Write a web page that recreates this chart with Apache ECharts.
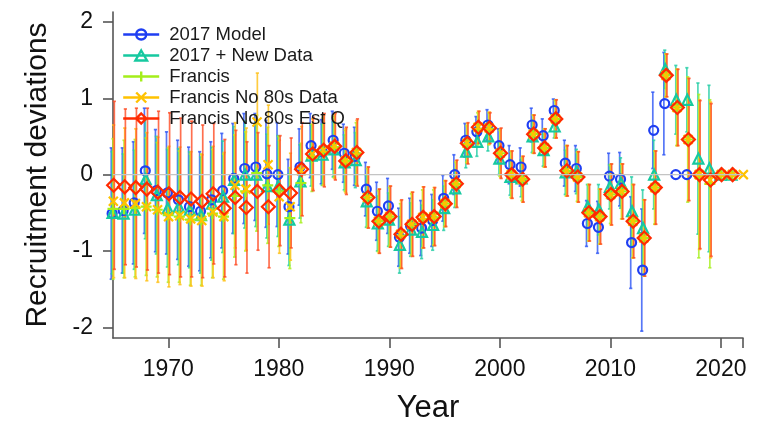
<!DOCTYPE html>
<html>
<head>
<meta charset="utf-8">
<script src="https://cdn.jsdelivr.net/npm/echarts@6/dist/echarts.min.js"></script>
<style>
  html, body { margin: 0; padding: 0; background: #fff; }
  #chart { width: 759px; height: 433px; }
</style>
</head>
<body>
<div id="chart"></div>
<script>
// Recruitment deviations (log-scale) by year, with ~95% intervals (half-widths)
const years = [
  1965, 1966, 1967, 1968, 1969, 1970, 1971, 1972, 1973, 1974,
  1975, 1976, 1977, 1978, 1979, 1980, 1981, 1982, 1983, 1984,
  1985, 1986, 1987, 1988, 1989, 1990, 1991, 1992, 1993, 1994,
  1995, 1996, 1997, 1998, 1999, 2000, 2001, 2002, 2003, 2004,
  2005, 2006, 2007, 2008, 2009, 2010, 2011, 2012, 2013, 2014,
  2015, 2016, 2017, 2018, 2019, 2020, 2021, 2022
];

const model2017 = [
  -0.51, -0.47, -0.37, 0.05, -0.21, -0.24, -0.33, -0.42, -0.48, -0.33,
  -0.21, -0.05, 0.08, 0.10, 0.01, 0.00, -0.42, 0.10, 0.38, 0.30,
  0.45, 0.28, 0.24, -0.19, -0.48, -0.41, -0.82, -0.67, -0.70, -0.60,
  -0.31, 0.00, 0.45, 0.56, 0.65, 0.38, 0.13, 0.10, 0.65, 0.51,
  0.84, 0.15, 0.08, -0.64, -0.69, -0.02, -0.06, -0.89, -1.25, 0.58,
  0.93, 0.00, 0.00, null, null, null, null, null
];
const model2017Ci = [
  0.86, 0.82, 0.80, 0.82, 0.80, 0.80, 0.78, 0.78, 0.78, 0.76,
  0.75, 0.72, 0.72, 0.70, 0.70, 0.68, 0.62, 0.50, 0.42, 0.42,
  0.38, 0.38, 0.38, 0.35, 0.38, 0.36, 0.38, 0.36, 0.36, 0.34,
  0.30, 0.26, 0.22, 0.20, 0.20, 0.22, 0.25, 0.25, 0.22, 0.22,
  0.15, 0.30, 0.30, 0.30, 0.34, 0.30, 0.35, 0.60, 0.80, 0.50,
  0.67, 0, 0, null, null, null, null, null
];

const newData = [
  -0.50, -0.51, -0.46, -0.06, -0.27, -0.44, -0.42, -0.46, -0.53, -0.38,
  -0.29, -0.07, 0.00, 0.00, -0.15, -0.15, -0.59, -0.09, 0.25, 0.26,
  0.33, 0.16, 0.19, -0.35, -0.64, -0.59, -0.92, -0.72, -0.75, -0.66,
  -0.44, -0.18, 0.30, 0.43, 0.50, 0.21, -0.03, -0.05, 0.50, 0.32,
  0.63, 0.03, 0.04, -0.42, -0.46, -0.16, -0.11, -0.48, -0.70, 0.00,
  1.38, 0.98, 0.98, 0.21, 0.08, 0.00, 0.00, null
];
const newDataCi = [
  0.80, 0.78, 0.78, 0.78, 0.77, 0.77, 0.76, 0.76, 0.76, 0.74,
  0.73, 0.70, 0.70, 0.68, 0.68, 0.66, 0.60, 0.48, 0.40, 0.40,
  0.36, 0.36, 0.36, 0.34, 0.36, 0.35, 0.37, 0.35, 0.35, 0.33,
  0.29, 0.25, 0.21, 0.19, 0.19, 0.21, 0.24, 0.24, 0.21, 0.21,
  0.15, 0.29, 0.29, 0.29, 0.33, 0.29, 0.33, 0.45, 0.50, 0.45,
  0.25, 0.45, 0.42, 0.99, 1.09, 0, 0, null
];

const francis = [
  -0.45, -0.45, -0.44, -0.42, -0.46, -0.53, -0.55, -0.59, -0.59, -0.51,
  -0.55, -0.28, -0.22, 0.02, -0.14, -0.22, -0.57, -0.11, 0.22, 0.30,
  0.36, 0.18, 0.28, -0.30, -0.61, -0.55, -0.80, -0.65, -0.58, -0.56,
  -0.38, -0.12, 0.40, 0.60, 0.60, 0.28, 0.00, -0.06, 0.53, 0.35,
  0.73, 0.05, -0.03, -0.50, -0.55, -0.26, -0.22, -0.61, -0.83, -0.17,
  1.30, 0.88, 0.46, -0.02, -0.12, 0.00, 0.00, null
];
const francisCi = [
  0.92, 0.90, 0.90, 0.90, 0.88, 0.88, 0.86, 0.86, 0.86, 0.84,
  0.82, 0.80, 0.78, 0.76, 0.76, 0.72, 0.66, 0.52, 0.44, 0.44,
  0.40, 0.40, 0.40, 0.38, 0.40, 0.38, 0.42, 0.40, 0.38, 0.36,
  0.30, 0.28, 0.24, 0.21, 0.21, 0.30, 0.30, 0.28, 0.25, 0.25,
  0.24, 0.33, 0.32, 0.37, 0.36, 0.38, 0.36, 0.48, 0.50, 0.48,
  0.28, 0.50, 0.82, 1.07, 1.10, 0, 0, null
];

const no80sData = [
  -0.35, -0.37, -0.38, -0.42, -0.46, -0.55, -0.54, -0.58, -0.60, -0.49,
  -0.55, -0.14, -0.19, 0.69, 0.13, -0.29, -0.42, 0.05, 0.27, 0.32,
  0.37, 0.18, 0.29, -0.30, -0.61, -0.55, -0.78, -0.65, -0.56, -0.55,
  -0.38, -0.12, 0.41, 0.62, 0.61, 0.28, 0.00, -0.06, 0.53, 0.35,
  0.73, 0.05, -0.03, -0.50, -0.55, -0.26, -0.22, -0.61, -0.83, -0.17,
  1.30, 0.88, 0.46, 0.00, -0.07, 0.00, 0.00, 0.00
];
const no80sDataCi = [
  1.00, 0.98, 0.98, 0.97, 0.95, 0.92, 0.90, 0.88, 0.86, 0.86,
  0.84, 0.82, 0.80, 0.64, 0.78, 0.74, 0.70, 0.58, 0.46, 0.46,
  0.42, 0.42, 0.42, 0.40, 0.42, 0.40, 0.44, 0.42, 0.40, 0.38,
  0.30, 0.30, 0.26, 0.21, 0.21, 0.32, 0.31, 0.30, 0.25, 0.25,
  0.25, 0.33, 0.33, 0.37, 0.36, 0.40, 0.36, 0.48, 0.50, 0.48,
  0.28, 0.50, 0.80, 0.98, 1.02, 0, 0, 0
];

const no80sEstQ = [
  -0.14, -0.16, -0.17, -0.19, -0.23, -0.25, -0.30, -0.32, -0.35, -0.25,
  -0.44, -0.30, -0.43, -0.22, -0.42, -0.21, -0.24, 0.07, 0.27, 0.32,
  0.37, 0.18, 0.29, -0.30, -0.61, -0.55, -0.78, -0.65, -0.56, -0.55,
  -0.38, -0.12, 0.41, 0.62, 0.61, 0.28, 0.00, -0.06, 0.53, 0.35,
  0.73, 0.05, -0.03, -0.50, -0.55, -0.26, -0.22, -0.61, -0.83, -0.17,
  1.30, 0.88, 0.46, 0.00, -0.07, 0.00, 0.00, null
];
const no80sEstQCi = [
  1.10, 1.02, 1.04, 1.06, 1.06, 1.06, 1.04, 1.02, 1.00, 0.92,
  0.90, 0.88, 0.86, 0.77, 0.80, 0.72, 0.72, 0.61, 0.48, 0.48,
  0.44, 0.44, 0.44, 0.40, 0.42, 0.40, 0.45, 0.42, 0.40, 0.38,
  0.30, 0.31, 0.27, 0.21, 0.20, 0.33, 0.31, 0.30, 0.25, 0.25,
  0.25, 0.33, 0.33, 0.37, 0.36, 0.40, 0.36, 0.48, 0.50, 0.48,
  0.28, 0.50, 0.80, 0.97, 1.00, 0, 0, null
];

const xLabelYears = [1970, 1980, 1990, 2000, 2010, 2020];
const xTickYears = [1970, 1980, 1990, 2000, 2010, 2020, 2022];
const yTicks = [-2, -1, 0, 1, 2];

// Marker shapes (open outlines) and matching legend icons (line + marker)
const SYM_PLUS = 'path://M5,0L5,10M0,5L10,5';
const SYM_CROSS = 'path://M0,0L10,10M10,0L0,10';
const ICON = {
  circle: 'path://M0,5L36,5M13,5A5,5 0 1 1 23,5A5,5 0 1 1 13,5',
  triangle: 'path://M0,5L36,5M18,0L23.8,10L12.2,10Z',
  plus: 'path://M0,5L36,5M18,0L18,10',
  cross: 'path://M0,5L36,5M13,0L23,10M23,0L13,10',
  diamond: 'path://M0,5L36,5M18,0L23,5L18,10L13,5Z'
};

const runs = [
  { name: '2017 Model', values: model2017, ci: model2017Ci, color: '#1f3ef2',
    bar: 'rgba(45,85,245,0.8)', symbol: 'circle', size: 9, icon: ICON.circle, shift: -0.16 },
  { name: '2017 + New Data', values: newData, ci: newDataCi, color: '#16c9a0',
    bar: 'rgba(35,205,165,0.8)', symbol: 'triangle', size: 10, icon: ICON.triangle, shift: -0.08 },
  { name: 'Francis', values: francis, ci: francisCi, color: '#a4ee1a',
    bar: 'rgba(170,240,40,0.85)', symbol: SYM_PLUS, size: 11, icon: ICON.plus, shift: 0 },
  { name: 'Francis No 80s Data', values: no80sData, ci: no80sDataCi, color: '#ffc200',
    bar: 'rgba(255,195,30,0.85)', symbol: SYM_CROSS, size: 9, icon: ICON.cross, shift: 0.06 },
  { name: 'Francis No 80s Est Q', values: no80sEstQ, ci: no80sEstQCi, color: '#ff2a00',
    bar: 'rgba(255,75,35,0.8)', symbol: 'diamond', size: 13, icon: ICON.diamond, shift: 0.12 }
];

const FONT = 'Liberation Sans, Arial, sans-serif';

function errorBarItem(params, api) {
  const x = api.value(0);
  const top = api.coord([x, api.value(2)]);
  const bot = api.coord([x, api.value(1)]);
  const color = api.visual('color');
  const cap = 1.6;
  const style = { stroke: color, lineWidth: 1.7 };
  return {
    type: 'group',
    children: [
      { type: 'line', shape: { x1: top[0], y1: top[1], x2: bot[0], y2: bot[1] }, style },
      { type: 'line', shape: { x1: top[0] - cap, y1: top[1], x2: top[0] + cap, y2: top[1] }, style },
      { type: 'line', shape: { x1: bot[0] - cap, y1: bot[1], x2: bot[0] + cap, y2: bot[1] }, style }
    ]
  };
}

const series = [];

// zero reference line
series.push({
  type: 'line', name: 'zero', silent: true, symbol: 'none',
  data: [[years[0], 0], [years[years.length - 1], 0]],
  lineStyle: { color: '#c4c4c4', width: 1.2 }
});

// interval bars first, then markers on top
runs.forEach(r => {
  const bars = [];
  years.forEach((y, i) => {
    const v = r.values[i], h = r.ci[i];
    if (v != null && h) bars.push([y + r.shift, v - h, v + h]);
  });
  series.push({
    type: 'custom', name: r.name + ' interval', silent: true,
    renderItem: errorBarItem,
    itemStyle: { color: r.bar },
    encode: { x: 0, y: [1, 2] },
    data: bars
  });
});

runs.forEach(r => {
  const pts = [];
  years.forEach((y, i) => {
    if (r.values[i] != null) pts.push([y + r.shift * 0.5, r.values[i]]);
  });
  series.push({
    type: 'scatter', name: r.name, clip: false,
    symbol: r.symbol, symbolSize: r.size,
    itemStyle: { color: 'rgba(0,0,0,0)', borderColor: r.color, borderWidth: 2.2, opacity: 1 },
    data: pts
  });
});

const chart = echarts.init(document.getElementById('chart'), null, { renderer: 'canvas' });
chart.setOption({
  animation: false,
  backgroundColor: '#ffffff',
  grid: { left: 113, right: 16, top: 12, bottom: 95 },
  legend: {
    orient: 'vertical', left: 117, top: 20,
    itemWidth: 36, itemHeight: 10, itemGap: 2,
    selectedMode: false,
    textStyle: { fontFamily: FONT, fontSize: 18.5, color: '#1a1a1a', padding: [0, 0, 0, 5], lineHeight: 19 },
    data: runs.map(r => ({
      name: r.name, icon: r.icon,
      itemStyle: { color: 'rgba(0,0,0,0)', borderColor: r.color, borderWidth: 2.4 }
    }))
  },
  xAxis: {
    type: 'value', min: 1965, max: 2022,
    name: 'Year', nameLocation: 'middle', nameGap: 55,
    nameTextStyle: { fontFamily: FONT, fontSize: 31, color: '#111' },
    axisLine: { show: true, onZero: false, lineStyle: { color: '#555', width: 1.6 } },
    axisTick: { show: true, length: 10, customValues: xTickYears, lineStyle: { color: '#555', width: 1.6 } },
    axisLabel: {
      customValues: xLabelYears, fontFamily: FONT, fontSize: 23, color: '#111', margin: 20,
      formatter: v => String(v)
    },
    splitLine: { show: false }
  },
  yAxis: {
    type: 'value', min: -2.14, max: 2.13,
    name: 'Recruitment deviations', nameLocation: 'middle', nameGap: 60,
    nameTextStyle: { fontFamily: FONT, fontSize: 30, color: '#111' },
    axisLine: { show: true, onZero: false, lineStyle: { color: '#555', width: 1.6 } },
    axisTick: { show: true, length: 10, customValues: yTicks, lineStyle: { color: '#555', width: 1.6 } },
    axisLabel: { customValues: yTicks, fontFamily: FONT, fontSize: 23, color: '#111', margin: 20 },
    splitLine: { show: false }
  },
  series
});
</script>
</body>
</html>
